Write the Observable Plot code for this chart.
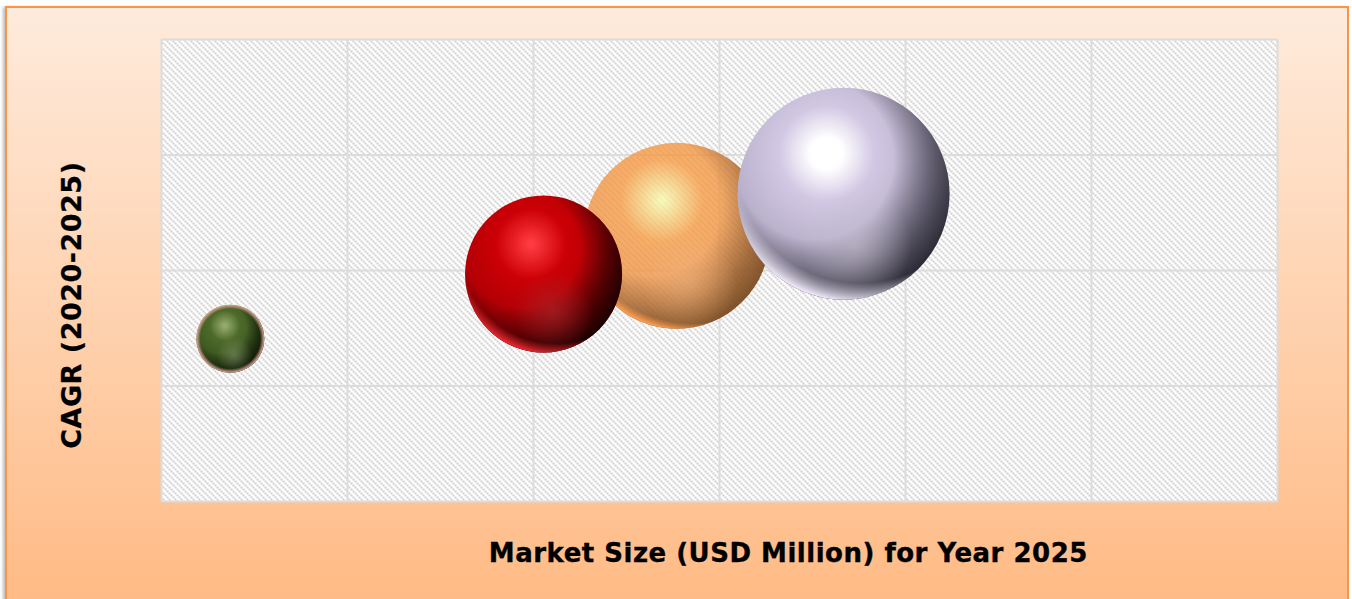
<!DOCTYPE html>
<html><head><meta charset="utf-8">
<script src="https://cdn.jsdelivr.net/npm/d3@7"></script>
<script src="https://cdn.jsdelivr.net/npm/@observablehq/plot@0.6"></script>
<style>
html,body{margin:0;padding:0;background:#fff;overflow:hidden}
#panel{position:absolute;left:5px;top:6px;width:1340px;height:600px;border:2px solid #fa9548;
background:linear-gradient(#feebdc,#ffba84);box-shadow:-2px 1px 3px #bbb}
#chart{position:absolute;left:0;top:0}
svg{display:block;background:transparent!important}
.xlab text{letter-spacing:.5px;stroke:#000;stroke-width:.35px}
.ylab text{letter-spacing:.5px;stroke:#000;stroke-width:.25px}
</style></head><body>
<div id="panel"></div><div id="chart"></div>
<script>
const segments = ["Olive","Orange","Red","Lilac"];
const marketSize = [0.37,2.77,2.054,3.667];
const cagr = [1.41,2.30,1.97,2.665];
const bubbleSize = [1156,8649,6162,11236];
const xTicks = [0,1,2,3,4,5,6];
const yTicks = [0,1,2,3,4];
const xLabel = "Market Size (USD Million) for Year 2025";
const yLabel = "CAGR (2020-2025)";
const rows = segments.map((s,i)=>({s,x:marketSize[i],y:cagr[i],size:bubbleSize[i]}));
const palette = {
 Olive:{hi:"#94ab6c",core:.03,mid:"#4e6a2a",edge:"#3a551f",dark:"#0a1204",rim:"#e6a79a",glow:"#7f9266",op:1,rc:[.5,.5,.5,.88],sh:1},
 Orange:{hi:"#f6f7a6",core:.02,mid:"#f6983f",edge:"#ec8f42",dark:"#5f3a18",rim:"#f59a50",glow:"#f0b078",op:.78,rc:[.58,.33,.68,.94],sh:.8},
 Red:{hi:"#ff3c42",core:.02,mid:"#cc0006",edge:"#ab0005",dark:"#160000",rim:"#e2262e",glow:"#aa2a2e",op:1,rc:[.58,.33,.68,.9],sh:1},
 Lilac:{hi:"#ffffff",core:.12,mid:"#d2c8e4",edge:"#b3abc5",dark:"#26252f",rim:"#e9e3f3",glow:"#c4bece",op:1,rc:[.58,.33,.68,.87],sh:1}
};
function stops(list){return list.map(([o,c,a])=>`<stop offset="${o}" stop-color="${c}" stop-opacity="${a??1}"/>`).join("");}
const defs = () => {
 let h = `<pattern id="hatch" width="6" height="6" patternUnits="userSpaceOnUse">
 <rect width="6" height="6" fill="#fff"/>
 <rect x="0" y="0" width="2" height="2" fill="#d0d0d0"/><rect x="2" y="2" width="2" height="2" fill="#d0d0d0"/>
 <rect x="4" y="4" width="2" height="2" fill="#d0d0d0"/></pattern>`;
 for (const s of segments){const p=palette[s];
  h+=`<radialGradient id="base${s}" cx=".42" cy=".31" r=".62">${stops([[0,p.hi],[p.core,p.hi],[.36,p.mid],[.8,p.edge],[1,p.edge]])}</radialGradient>`;
  h+=`<radialGradient id="shade${s}" cx=".36" cy=".34" r=".78">${stops([[0,p.dark,0],[.48,p.dark,0],[.76,p.dark,.68*p.sh],[.93,p.dark,p.sh],[1,p.dark,p.sh]])}</radialGradient>`;
  h+=`<radialGradient id="glow${s}" cx=".56" cy=".74" r=".26">${stops([[0,p.glow,.6],[1,p.glow,0]])}</radialGradient>`;
  h+=`<radialGradient id="rim${s}" cx="${p.rc[0]}" cy="${p.rc[1]}" r="${p.rc[2]}">${stops([[0,p.rim,0],[p.rc[3],p.rim,0],[1,p.rim,1]])}</radialGradient>`;
 }
 const g=document.createElementNS("http://www.w3.org/2000/svg","defs"); g.innerHTML=h; return g;
};
const sphere = (row)=>["base","shade","glow","rim"].map(pre=>Plot.dot([row],{x:"x",y:"y",r:"size",fill:`url(#${pre}${row.s})`,fillOpacity:pre==="base"?palette[row.s].op:1,stroke:"none"}));
const plot = Plot.plot({
 width:1352,height:599,marginLeft:161,marginRight:75,marginTop:39,marginBottom:98,
 style:{background:"transparent"},
 x:{domain:[0,6],axis:null},
 y:{domain:[0,4],axis:null},
 r:{type:"sqrt",domain:[0,11236],range:[0,106]},
 marks:[
  defs,
  Plot.frame({fill:"url(#hatch)",stroke:"none"}),
  Plot.gridX(xTicks,{stroke:"#dcdcdc",strokeWidth:2,strokeOpacity:1}),
  Plot.gridY(yTicks,{stroke:"#dcdcdc",strokeWidth:2,strokeOpacity:1}),
  ...rows.flatMap(sphere),
  Plot.text([xLabel],{x:()=>3.37,y:()=>0,dy:52,text:d=>d,fontFamily:"DejaVu Sans",fontWeight:"bold",fontSize:26,fill:"#000",className:"xlab"}),
  Plot.text([yLabel],{x:()=>-0.477,y:()=>1.7,text:d=>d,rotate:-90,fontFamily:"DejaVu Sans",fontWeight:"bold",fontSize:27,fill:"#000",className:"ylab"})
 ]
});
document.getElementById("chart").append(plot);
</script></body></html>
